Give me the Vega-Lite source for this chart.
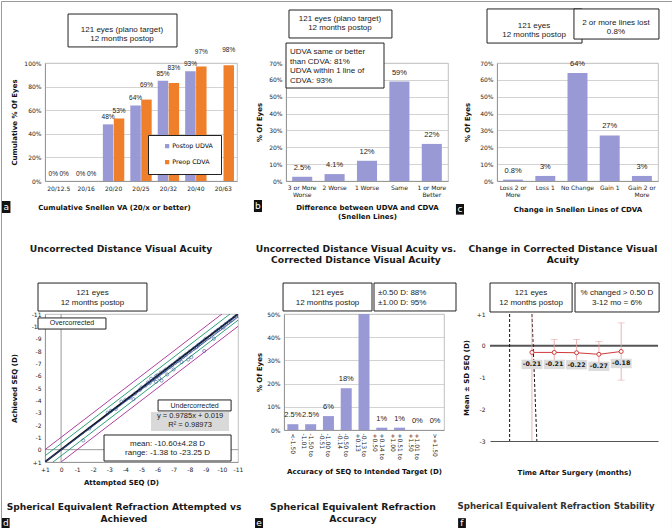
{
"$schema":"https://vega.github.io/schema/vega-lite/v6.json",
"background":"white",
"padding":0,
"spacing":251,
"bounds":"flush",
"config":{
 "font":"DejaVu Sans",
 "view":{"stroke":"#b0b0b0","strokeWidth":0.8},
 "axis":{"labelFont":"DejaVu Sans","labelFontSize":6,"labelColor":"#1a1a1a","titleFont":"DejaVu Sans","titleFontWeight":"bold","titleFontSize":7,"titleColor":"#111","domainColor":"#8a8a8a","domainWidth":0.8,"gridColor":"#c8c8c8","gridWidth":0.8,"ticks":false,"labelPadding":4,"labelOverlap":false},
 "axisQuantitative":{"labelOverlap":false,"labelFlush":false},
 "text":{"font":"Liberation Sans","color":"#1a1a1a"}
},
"datasets":{
 "cumva":[
  {"va":"20/12.5","series":"Postop UDVA","pct":0},
  {"va":"20/12.5","series":"Preop CDVA","pct":0},
  {"va":"20/16","series":"Postop UDVA","pct":0},
  {"va":"20/16","series":"Preop CDVA","pct":0},
  {"va":"20/20","series":"Postop UDVA","pct":0.48},
  {"va":"20/20","series":"Preop CDVA","pct":0.53},
  {"va":"20/25","series":"Postop UDVA","pct":0.64},
  {"va":"20/25","series":"Preop CDVA","pct":0.69},
  {"va":"20/32","series":"Postop UDVA","pct":0.85},
  {"va":"20/32","series":"Preop CDVA","pct":0.83},
  {"va":"20/40","series":"Postop UDVA","pct":0.93},
  {"va":"20/40","series":"Preop CDVA","pct":0.97},
  {"va":"20/63","series":"Preop CDVA","pct":0.98}
 ],
 "diff":[
  {"cat":"3 or More|Worse","pct":0.025},
  {"cat":"2 Worse","pct":0.041},
  {"cat":"1 Worse","pct":0.12},
  {"cat":"Same","pct":0.59},
  {"cat":"1 or More|Better","pct":0.22}
 ],
 "cdva":[
  {"cat":"Loss 2 or|More","pct":0.008},
  {"cat":"Loss 1","pct":0.03},
  {"cat":"No Change","pct":0.64},
  {"cat":"Gain 1","pct":0.27},
  {"cat":"Gain 2 or|More","pct":0.03}
 ],
 "acc":[
  {"cat":"<-1.50","pct":0.025},
  {"cat":"-1.50 to|-1.01","pct":0.025},
  {"cat":"-1.00 to|-0.51","pct":0.06},
  {"cat":"-0.50 to|-0.14","pct":0.18},
  {"cat":"-0.13 to|+0.13","pct":0.69},
  {"cat":"+0.14 to|+0.50","pct":0.01},
  {"cat":"+0.51 to|+1.00","pct":0.01},
  {"cat":"+1.01 to|+1.50","pct":0},
  {"cat":">+1.50","pct":0}
 ],
 "seq":[
  {"att":-1.38,"ach":-0.75},{"att":-1.75,"ach":-1.7},{"att":-2.9,"ach":-3.0},{"att":-3.1,"ach":-3.15},
  {"att":-3.4,"ach":-3.3},{"att":-3.75,"ach":-3.9},{"att":-4.0,"ach":-4.05},{"att":-4.25,"ach":-4.2},
  {"att":-4.5,"ach":-4.1},{"att":-4.6,"ach":-4.55},{"att":-4.9,"ach":-4.85},{"att":-5.0,"ach":-5.05},
  {"att":-5.25,"ach":-5.2},{"att":-5.4,"ach":-5.45},{"att":-5.5,"ach":-5.4},{"att":-5.6,"ach":-5.75},
  {"att":-5.75,"ach":-5.7},{"att":-5.9,"ach":-5.5},{"att":-5.9,"ach":-5.95},{"att":-6.0,"ach":-6.05},
  {"att":-6.1,"ach":-5.8},{"att":-6.2,"ach":-6.25},{"att":-6.25,"ach":-5.6},{"att":-6.4,"ach":-6.35},
  {"att":-6.5,"ach":-6.5},{"att":-6.6,"ach":-6.1},{"att":-6.75,"ach":-6.7},{"att":-6.9,"ach":-6.85},
  {"att":-7.0,"ach":-6.5},{"att":-7.1,"ach":-7.05},{"att":-7.25,"ach":-7.2},{"att":-7.4,"ach":-7.4},
  {"att":-7.5,"ach":-7.1},{"att":-7.6,"ach":-7.55},{"att":-7.75,"ach":-7.7},{"att":-7.9,"ach":-7.3},
  {"att":-8.0,"ach":-7.95},{"att":-8.1,"ach":-7.5},{"att":-8.25,"ach":-8.2},{"att":-8.4,"ach":-8.3},
  {"att":-8.5,"ach":-8.45},{"att":-8.6,"ach":-8.55},{"att":-8.75,"ach":-8.7},{"att":-8.9,"ach":-8.0},
  {"att":-8.9,"ach":-8.85},{"att":-9.0,"ach":-9.0},{"att":-9.2,"ach":-9.1},{"att":-9.4,"ach":-9.35},
  {"att":-9.5,"ach":-9.0},{"att":-9.6,"ach":-9.55},{"att":-9.75,"ach":-9.7},{"att":-9.9,"ach":-9.8},
  {"att":-10.0,"ach":-9.95},{"att":-10.1,"ach":-9.9},{"att":-10.25,"ach":-10.2},{"att":-10.4,"ach":-10.3},
  {"att":-10.5,"ach":-10.45},{"att":-10.6,"ach":-10.5},{"att":-10.75,"ach":-10.7},{"att":-10.9,"ach":-10.85},
  {"att":-11.0,"ach":-10.9}
 ],
 "reflines":[
  {"line":"-1.0","att":2,"ach":1},{"line":"-1.0","att":-12,"ach":-13},
  {"line":"-0.5","att":2,"ach":1.5},{"line":"-0.5","att":-12,"ach":-12.5},
  {"line":"0","att":2,"ach":2},{"line":"0","att":-12,"ach":-12},
  {"line":"+0.5","att":2,"ach":2.5},{"line":"+0.5","att":-12,"ach":-11.5},
  {"line":"+1.0","att":2,"ach":3},{"line":"+1.0","att":-12,"ach":-11}
 ],
 "fit":[{"att":2,"ach":1.976},{"att":-12,"ach":-11.723}],
 "stab":[
  {"visit":1,"mean":-0.21,"lo":-3.6,"hi":1.3,"label":"-0.21"},
  {"visit":2,"mean":-0.21,"lo":-0.62,"hi":0.2,"label":"-0.21"},
  {"visit":3,"mean":-0.22,"lo":-0.64,"hi":0.2,"label":"-0.22"},
  {"visit":4,"mean":-0.27,"lo":-0.67,"hi":0.13,"label":"-0.27"},
  {"visit":5,"mean":-0.18,"lo":-1.08,"hi":0.72,"label":"-0.18"}
 ]
},
"vconcat":[
 {"hconcat":[
  {"width":192,"height":118,
   "resolve":{"scale":{"x":"independent","y":"independent"}},
   "layer":[
    {"data":{"name":"cumva"},
     "encoding":{
      "x":{"field":"va","type":"nominal","sort":["20/12.5","20/16","20/20","20/25","20/32","20/40","20/63"],"scale":{"paddingInner":0.22,"paddingOuter":0.11},"axis":{"title":"Cumulative Snellen VA (20/x or better)","labelAngle":0,"titlePadding":12,"titleX":69}},
      "xOffset":{"field":"series","type":"nominal","sort":["Postop UDVA","Preop CDVA"],"scale":{"paddingInner":0.04}},
      "y":{"field":"pct","type":"quantitative","scale":{"domain":[0,1],"nice":false},"axis":{"title":"Cumulative % Of Eyes","format":".0%","values":[0,0.2,0.4,0.6,0.8,1],"tickCount":10,"titlePadding":6}}
     },
     "layer":[
      {"mark":{"type":"bar"},
       "encoding":{"color":{"field":"series","type":"nominal","scale":{"domain":["Postop UDVA","Preop CDVA"],"range":["#9999d6","#f07f2c"]},
        "legend":{"title":null,"orient":"none","legendX":103,"legendY":72,"strokeColor":"#222","fillColor":"white","padding":8,"labelFontSize":6.3,"labelFont":"DejaVu Sans","symbolType":"square","symbolSize":18,"symbolOffset":8,"rowPadding":9,"symbolStrokeWidth":0,"labelOffset":2}}}},
      {"transform":[{"filter":"datum.series == 'Postop UDVA' || datum.pct < 0.6"}],
       "mark":{"type":"text","fontSize":6.5,"baseline":"bottom","dy":-4},
       "encoding":{"text":{"field":"pct","type":"quantitative","format":".0%"}}},
      {"transform":[{"filter":"datum.series == 'Preop CDVA' && datum.pct >= 0.6"}],
       "mark":{"type":"text","fontSize":6.5,"baseline":"bottom","dy":-12},
       "encoding":{"text":{"field":"pct","type":"quantitative","format":".0%"}}}
     ]},
    {"data":{"values":[{}]},
     "layer":[
      {"mark":{"type":"rect","fill":null,"stroke":"#9a9a9a","strokeWidth":1},
       "encoding":{"x":{"datum":-22.66,"type":"quantitative","scale":{"domain":[0,100],"nice":false,"zero":false},"axis":null},"x2":{"datum":326.8},
        "y":{"datum":-52.1,"type":"quantitative","scale":{"domain":[100,0],"nice":false,"zero":false},"axis":null},"y2":{"datum":394.5}}},
      {"mark":{"type":"rect","fill":"white","stroke":"#222","strokeWidth":1},
       "encoding":{"x":{"datum":12,"type":"quantitative","scale":{"domain":[0,100],"nice":false,"zero":false},"axis":null},"x2":{"datum":68.75},
        "y":{"datum":-41.5,"type":"quantitative","scale":{"domain":[100,0],"nice":false,"zero":false},"axis":null},"y2":{"datum":-13.6}}},
      {"mark":{"type":"text","fontSize":8,"lineHeight":9.5,"baseline":"middle","align":"center"},
       "encoding":{"x":{"datum":40.1,"type":"quantitative","scale":{"domain":[0,100],"nice":false,"zero":false},"axis":null},
        "y":{"datum":-28.0,"type":"quantitative","scale":{"domain":[100,0],"nice":false,"zero":false},"axis":null},
        "text":{"value":["121 eyes (plano target)","12 months postop"]}}},
      {"mark":{"type":"text","font":"DejaVu Sans","fontWeight":"bold","fontSize":9.2,"baseline":"middle","align":"center"},
       "encoding":{"x":{"datum":39.6,"type":"quantitative","scale":{"domain":[0,100],"nice":false,"zero":false},"axis":null},
        "y":{"datum":157.6,"type":"quantitative","scale":{"domain":[100,0],"nice":false,"zero":false},"axis":null},
        "text":{"value":"Uncorrected Distance Visual Acuity"}}},
      {"mark":{"type":"rect","fill":"#111"},
       "encoding":{"x":{"datum":-22.4,"type":"quantitative","scale":{"domain":[0,100],"nice":false,"zero":false},"axis":null},"x2":{"datum":-18.0},
        "y":{"datum":116.9,"type":"quantitative","scale":{"domain":[100,0],"nice":false,"zero":false},"axis":null},"y2":{"datum":127.1}}},
      {"mark":{"type":"text","font":"DejaVu Sans","fontSize":9,"color":"white","baseline":"middle","align":"center"},
       "encoding":{"x":{"datum":-20.2,"type":"quantitative","scale":{"domain":[0,100],"nice":false,"zero":false},"axis":null},
        "y":{"datum":122,"type":"quantitative","scale":{"domain":[100,0],"nice":false,"zero":false},"axis":null},
        "text":{"value":"a"}}}
     ]}
   ]},
  {"width":162,"height":118,
   "resolve":{"scale":{"x":"independent","y":"independent"}},
   "layer":[
    {"data":{"name":"diff"},
     "encoding":{
      "x":{"field":"cat","type":"nominal","sort":["3 or More|Worse","2 Worse","1 Worse","Same","1 or More|Better"],"scale":{"paddingInner":0.38,"paddingOuter":0.19},"axis":{"title":["Difference between  UDVA and CDVA","(Snellen Lines)"],"titleLineHeight":9,"labelAngle":0,"labelExpr":"split(datum.label, '|')","labelLineHeight":7,"labelPadding":3,"titlePadding":6}},
      "y":{"field":"pct","type":"quantitative","scale":{"domain":[0,0.7],"nice":false},"axis":{"title":"% Of Eyes","format":".0%","values":[0,0.1,0.2,0.3,0.4,0.5,0.6,0.7],"tickCount":10,"titlePadding":6}}
     },
     "layer":[
      {"mark":{"type":"bar","color":"#9999d6"}},
      {"mark":{"type":"text","fontSize":7.5,"baseline":"bottom","dy":-5},
       "encoding":{"text":{"field":"pct","type":"quantitative","format":".2~%"}}}
     ]},
    {"data":{"values":[{}]},
     "layer":[
      {"mark":{"type":"rect","fill":"white","stroke":"#222","strokeWidth":1},
       "encoding":{"x":{"datum":1.85,"type":"quantitative","scale":{"domain":[0,100],"nice":false,"zero":false},"axis":null},"x2":{"datum":65.4},
        "y":{"datum":-44.9,"type":"quantitative","scale":{"domain":[100,0],"nice":false,"zero":false},"axis":null},"y2":{"datum":-21.2}}},
      {"mark":{"type":"text","fontSize":8,"lineHeight":9.5,"baseline":"middle","align":"center"},
       "encoding":{"x":{"datum":33.3,"type":"quantitative","scale":{"domain":[0,100],"nice":false,"zero":false},"axis":null},
        "y":{"datum":-37.3,"type":"quantitative","scale":{"domain":[100,0],"nice":false,"zero":false},"axis":null},
        "text":{"value":["121 eyes (plano target)","12  months postop"]}}},
      {"mark":{"type":"rect","fill":"white","stroke":"#222","strokeWidth":1},
       "encoding":{"x":{"datum":0,"type":"quantitative","scale":{"domain":[0,100],"nice":false,"zero":false},"axis":null},"x2":{"datum":60.5},
        "y":{"datum":-16.9,"type":"quantitative","scale":{"domain":[100,0],"nice":false,"zero":false},"axis":null},"y2":{"datum":21.2}}},
      {"mark":{"type":"text","fontSize":8,"lineHeight":9.4,"baseline":"middle","align":"left"},
       "encoding":{"x":{"datum":2.5,"type":"quantitative","scale":{"domain":[0,100],"nice":false,"zero":false},"axis":null},
        "y":{"datum":-8.9,"type":"quantitative","scale":{"domain":[100,0],"nice":false,"zero":false},"axis":null},
        "text":{"value":["UDVA same or better","than CDVA: 81%","UDVA within 1 line of","CDVA: 93%"]}}},
      {"mark":{"type":"text","font":"DejaVu Sans","fontWeight":"bold","fontSize":9.2,"lineHeight":11.5,"baseline":"middle","align":"center"},
       "encoding":{"x":{"datum":43.2,"type":"quantitative","scale":{"domain":[0,100],"nice":false,"zero":false},"axis":null},
        "y":{"datum":157.6,"type":"quantitative","scale":{"domain":[100,0],"nice":false,"zero":false},"axis":null},
        "text":{"value":["Uncorrected Distance Visual Acuity vs.","Corrected Distance Visual Acuity"]}}},
      {"mark":{"type":"rect","fill":"#111"},
       "encoding":{"x":{"datum":-19.8,"type":"quantitative","scale":{"domain":[0,100],"nice":false,"zero":false},"axis":null},"x2":{"datum":-14.8},
        "y":{"datum":116.1,"type":"quantitative","scale":{"domain":[100,0],"nice":false,"zero":false},"axis":null},"y2":{"datum":126.3}}},
      {"mark":{"type":"text","font":"DejaVu Sans","fontSize":9,"color":"white","baseline":"middle","align":"center"},
       "encoding":{"x":{"datum":-17.3,"type":"quantitative","scale":{"domain":[0,100],"nice":false,"zero":false},"axis":null},
        "y":{"datum":121.2,"type":"quantitative","scale":{"domain":[100,0],"nice":false,"zero":false},"axis":null},
        "text":{"value":"b"}}}
     ]}
   ]},
  {"width":161,"height":118,
   "resolve":{"scale":{"x":"independent","y":"independent"}},
   "layer":[
    {"data":{"name":"cdva"},
     "encoding":{
      "x":{"field":"cat","type":"nominal","sort":["Loss 2 or|More","Loss 1","No Change","Gain 1","Gain 2 or|More"],"scale":{"paddingInner":0.38,"paddingOuter":0.19},"axis":{"title":"Change in Snellen Lines of CDVA","labelAngle":0,"labelExpr":"split(datum.label, '|')","labelLineHeight":7,"labelPadding":3,"titlePadding":8}},
      "y":{"field":"pct","type":"quantitative","scale":{"domain":[0,0.7],"nice":false},"axis":{"title":"% Of Eyes","format":".0%","values":[0,0.1,0.2,0.3,0.4,0.5,0.6,0.7],"tickCount":10,"titlePadding":9}}
     },
     "layer":[
      {"mark":{"type":"bar","color":"#9999d6"}},
      {"mark":{"type":"text","fontSize":7.5,"baseline":"bottom","dy":-5},
       "encoding":{"text":{"field":"pct","type":"quantitative","format":".2~%"}}}
     ]},
    {"data":{"values":[{}]},
     "layer":[
      {"mark":{"type":"rect","fill":"white","stroke":"#222","strokeWidth":1},
       "encoding":{"x":{"datum":-6.2,"type":"quantitative","scale":{"domain":[0,100],"nice":false,"zero":false},"axis":null},"x2":{"datum":52.8},
        "y":{"datum":-45.8,"type":"quantitative","scale":{"domain":[100,0],"nice":false,"zero":false},"axis":null},"y2":{"datum":-16.9}}},
      {"mark":{"type":"text","fontSize":8,"lineHeight":9.5,"baseline":"middle","align":"center"},
       "encoding":{"x":{"datum":23.0,"type":"quantitative","scale":{"domain":[0,100],"nice":false,"zero":false},"axis":null},
        "y":{"datum":-31.4,"type":"quantitative","scale":{"domain":[100,0],"nice":false,"zero":false},"axis":null},
        "text":{"value":["121 eyes","12 months postop"]}}},
      {"mark":{"type":"rect","fill":"white","stroke":"#222","strokeWidth":1},
       "encoding":{"x":{"datum":47.8,"type":"quantitative","scale":{"domain":[0,100],"nice":false,"zero":false},"axis":null},"x2":{"datum":100.6},
        "y":{"datum":-45.8,"type":"quantitative","scale":{"domain":[100,0],"nice":false,"zero":false},"axis":null},"y2":{"datum":-20.3}}},
      {"mark":{"type":"text","fontSize":8,"lineHeight":9.5,"baseline":"middle","align":"center"},
       "encoding":{"x":{"datum":73.9,"type":"quantitative","scale":{"domain":[0,100],"nice":false,"zero":false},"axis":null},
        "y":{"datum":-33.9,"type":"quantitative","scale":{"domain":[100,0],"nice":false,"zero":false},"axis":null},
        "text":{"value":["2 or more lines lost","0.8%"]}}},
      {"mark":{"type":"text","font":"DejaVu Sans","fontWeight":"bold","fontSize":9.2,"lineHeight":11.5,"baseline":"middle","align":"center"},
       "encoding":{"x":{"datum":41.0,"type":"quantitative","scale":{"domain":[0,100],"nice":false,"zero":false},"axis":null},
        "y":{"datum":157.6,"type":"quantitative","scale":{"domain":[100,0],"nice":false,"zero":false},"axis":null},
        "text":{"value":["Change in Corrected Distance Visual","Acuity"]}}},
      {"mark":{"type":"rect","fill":"#111"},
       "encoding":{"x":{"datum":-25.5,"type":"quantitative","scale":{"domain":[0,100],"nice":false,"zero":false},"axis":null},"x2":{"datum":-20.5},
        "y":{"datum":119.5,"type":"quantitative","scale":{"domain":[100,0],"nice":false,"zero":false},"axis":null},"y2":{"datum":128.5}}},
      {"mark":{"type":"text","font":"DejaVu Sans","fontSize":9,"color":"white","baseline":"middle","align":"center"},
       "encoding":{"x":{"datum":-23.0,"type":"quantitative","scale":{"domain":[0,100],"nice":false,"zero":false},"axis":null},
        "y":{"datum":124.0,"type":"quantitative","scale":{"domain":[100,0],"nice":false,"zero":false},"axis":null},
        "text":{"value":"c"}}}
     ]}
   ]}
 ],"spacing":49,"bounds":"flush"},
 {"hconcat":[
  {"width":193,"height":148,
   "layer":[
    {"data":{"values":[{}]},"mark":{"type":"rule","color":"#9a9a9a","strokeWidth":1},
     "encoding":{"x":{"datum":0,"type":"quantitative","scale":{"domain":[1,-11],"nice":false,"zero":false},"title":"Attempted SEQ (D)","axis":{"values":[1,0,-1,-2,-3,-4,-5,-6,-7,-8,-9,-10,-11],"tickCount":20,"labelExpr":"datum.value > 0 ? '+' + datum.value : '' + datum.value","labelOverlap":false,"labelFlush":false,"gridColor":"#dcdcdc","titlePadding":6,"titleX":76}},
      "y":{"datum":1,"type":"quantitative","scale":{"domain":[1,-11],"nice":false,"zero":false},"title":"Achieved SEQ (D)","axis":{"values":[1,0,-1,-2,-3,-4,-5,-6,-7,-8,-9,-10,-11],"tickCount":20,"labelExpr":"datum.value > 0 ? '+' + datum.value : '' + datum.value","labelOverlap":false,"labelFlush":false,"gridColor":"#dcdcdc","titlePadding":14}},
      "y2":{"datum":-11}}},
    {"data":{"values":[{}]},"mark":{"type":"rule","color":"#9a9a9a","strokeWidth":1},
     "encoding":{"x":{"datum":1,"type":"quantitative","title":"Attempted SEQ (D)"},"x2":{"datum":-11},
      "y":{"datum":0,"type":"quantitative","title":"Achieved SEQ (D)"}}},
    {"data":{"name":"reflines"},"transform":[{"filter":"datum.line == '-1.0' || datum.line == '+1.0'"}],
     "mark":{"type":"line","color":"#b0409f","strokeWidth":1,"clip":true},
     "encoding":{"x":{"field":"att","type":"quantitative","title":"Attempted SEQ (D)"},"y":{"field":"ach","type":"quantitative","title":"Achieved SEQ (D)"},"detail":{"field":"line"}}},
    {"data":{"name":"reflines"},"transform":[{"filter":"datum.line == '-0.5' || datum.line == '+0.5'"}],
     "mark":{"type":"line","color":"#2fa07a","strokeWidth":1,"clip":true},
     "encoding":{"x":{"field":"att","type":"quantitative","title":"Attempted SEQ (D)"},"y":{"field":"ach","type":"quantitative","title":"Achieved SEQ (D)"},"detail":{"field":"line"}}},
    {"data":{"name":"reflines"},"transform":[{"filter":"datum.line == '0'"}],
     "mark":{"type":"line","color":"#111","strokeWidth":1.8,"clip":true},
     "encoding":{"x":{"field":"att","type":"quantitative","title":"Attempted SEQ (D)"},"y":{"field":"ach","type":"quantitative","title":"Achieved SEQ (D)"}}},
    {"data":{"name":"fit"},
     "mark":{"type":"line","color":"#3050b0","strokeWidth":0.8,"clip":true},
     "encoding":{"x":{"field":"att","type":"quantitative","title":"Attempted SEQ (D)"},"y":{"field":"ach","type":"quantitative","title":"Achieved SEQ (D)"}}},
    {"data":{"name":"seq"},
     "mark":{"type":"point","shape":"circle","size":10,"stroke":"#2f4f8f","strokeWidth":0.8,"filled":false,"clip":true},
     "encoding":{"x":{"field":"att","type":"quantitative","title":"Attempted SEQ (D)"},"y":{"field":"ach","type":"quantitative","title":"Achieved SEQ (D)"}}},
    {"data":{"values":[{}]},
     "layer":[
      {"mark":{"type":"rect","fill":"white","stroke":"#222","strokeWidth":1},
       "encoding":{"x":{"datum":1.435,"type":"quantitative","title":"Attempted SEQ (D)"},"x2":{"datum":-5.34},"y":{"datum":-13.51,"type":"quantitative","title":"Achieved SEQ (D)"},"y2":{"datum":-11.24}}},
      {"mark":{"type":"text","fontSize":8,"lineHeight":9.5,"baseline":"middle","align":"center"},
       "encoding":{"x":{"datum":-1.95,"type":"quantitative","title":"Attempted SEQ (D)"},"y":{"datum":-12.7,"type":"quantitative","title":"Achieved SEQ (D)"},"text":{"value":["121 eyes","12 months postop"]}}},
      {"mark":{"type":"rect","fill":"white","stroke":"#222","strokeWidth":1},
       "encoding":{"x":{"datum":1.435,"type":"quantitative","title":"Attempted SEQ (D)"},"x2":{"datum":-2.79},"y":{"datum":-10.68,"type":"quantitative","title":"Achieved SEQ (D)"},"y2":{"datum":-9.78}}},
      {"mark":{"type":"text","fontSize":7,"baseline":"middle","align":"center"},
       "encoding":{"x":{"datum":-0.68,"type":"quantitative","title":"Attempted SEQ (D)"},"y":{"datum":-10.23,"type":"quantitative","title":"Achieved SEQ (D)"},"text":{"value":"Overcorrected"}}},
      {"mark":{"type":"rect","fill":"white","stroke":"#222","strokeWidth":1},
       "encoding":{"x":{"datum":-6.03,"type":"quantitative","title":"Attempted SEQ (D)"},"x2":{"datum":-10.57},"y":{"datum":-4.03,"type":"quantitative","title":"Achieved SEQ (D)"},"y2":{"datum":-3.14}}},
      {"mark":{"type":"text","fontSize":7,"baseline":"middle","align":"center"},
       "encoding":{"x":{"datum":-8.3,"type":"quantitative","title":"Attempted SEQ (D)"},"y":{"datum":-3.58,"type":"quantitative","title":"Achieved SEQ (D)"},"text":{"value":"Undercorrected"}}},
      {"mark":{"type":"rect","fill":"#d9d9d9"},
       "encoding":{"x":{"datum":-5.59,"type":"quantitative","title":"Attempted SEQ (D)"},"x2":{"datum":-10.44},"y":{"datum":-3.05,"type":"quantitative","title":"Achieved SEQ (D)"},"y2":{"datum":-1.51}}},
      {"mark":{"type":"text","fontSize":7.5,"lineHeight":9,"baseline":"middle","align":"center"},
       "encoding":{"x":{"datum":-8.02,"type":"quantitative","title":"Attempted SEQ (D)"},"y":{"datum":-2.73,"type":"quantitative","title":"Achieved SEQ (D)"},"text":{"value":["y = 0.9785x + 0.019","R² = 0.98973"]}}},
      {"mark":{"type":"rect","fill":"white","stroke":"#222","strokeWidth":1},
       "encoding":{"x":{"datum":-2.67,"type":"quantitative","title":"Attempted SEQ (D)"},"x2":{"datum":-10.57},"y":{"datum":-1.19,"type":"quantitative","title":"Achieved SEQ (D)"},"y2":{"datum":0.92}}},
      {"mark":{"type":"text","fontSize":8,"lineHeight":9.5,"baseline":"middle","align":"center"},
       "encoding":{"x":{"datum":-6.62,"type":"quantitative","title":"Attempted SEQ (D)"},"y":{"datum":-0.46,"type":"quantitative","title":"Achieved SEQ (D)"},"text":{"value":["mean: -10.60±4.28 D","range: -1.38 to -23.25 D"]}}},
      {"mark":{"type":"text","font":"DejaVu Sans","fontWeight":"bold","fontSize":9.1,"lineHeight":11.5,"baseline":"middle","align":"center"},
       "encoding":{"x":{"datum":-3.91,"type":"quantitative","title":"Attempted SEQ (D)"},"y":{"datum":4.65,"type":"quantitative","title":"Achieved SEQ (D)"},"text":{"value":["Spherical Equivalent Refraction Attempted vs","Achieved"]}}},
      {"mark":{"type":"rect","fill":"#111"},
       "encoding":{"x":{"datum":3.68,"type":"quantitative","title":"Attempted SEQ (D)"},"x2":{"datum":3.2},"y":{"datum":5.54,"type":"quantitative","title":"Achieved SEQ (D)"},"y2":{"datum":6.35}}},
      {"mark":{"type":"text","font":"DejaVu Sans","fontSize":9,"color":"white","baseline":"middle","align":"center"},
       "encoding":{"x":{"datum":3.44,"type":"quantitative","title":"Attempted SEQ (D)"},"y":{"datum":5.95,"type":"quantitative","title":"Achieved SEQ (D)"},"text":{"value":"d"}}}
     ]}
   ]},
  {"width":160,"height":116,
   "resolve":{"scale":{"x":"independent","y":"independent"}},
   "layer":[
    {"data":{"name":"acc"},
     "encoding":{
      "x":{"field":"cat","type":"nominal","sort":["<-1.50","-1.50 to|-1.01","-1.00 to|-0.51","-0.50 to|-0.14","-0.13 to|+0.13","+0.14 to|+0.50","+0.51 to|+1.00","+1.01 to|+1.50",">+1.50"],"scale":{"paddingInner":0.38,"paddingOuter":0.19},"axis":{"title":"Accuracy of SEQ to Intended Target (D)","labelAngle":90,"labelAlign":"left","labelBaseline":"middle","labelExpr":"split(datum.label, '|')","labelLineHeight":6.5,"labelPadding":3,"titlePadding":8}},
      "y":{"field":"pct","type":"quantitative","scale":{"domain":[0,0.5],"nice":false},"axis":{"title":"% Of Eyes","format":".0%","values":[0,0.1,0.2,0.3,0.4,0.5],"tickCount":10,"titlePadding":4}}
     },
     "layer":[
      {"mark":{"type":"bar","color":"#9999d6","clip":true}},
      {"transform":[{"filter":"datum.pct < 0.5"}],
       "mark":{"type":"text","fontSize":7.5,"baseline":"bottom","dy":-5},
       "encoding":{"text":{"field":"pct","type":"quantitative","format":".2~%"}}}
     ]},
    {"data":{"values":[{}]},
     "layer":[
      {"mark":{"type":"rect","fill":"white","stroke":"#222","strokeWidth":1},
       "encoding":{"x":{"datum":-0.6,"type":"quantitative","scale":{"domain":[0,100],"nice":false,"zero":false},"axis":null},"x2":{"datum":55},
        "y":{"datum":-26.7,"type":"quantitative","scale":{"domain":[100,0],"nice":false,"zero":false},"axis":null},"y2":{"datum":-2.6}}},
      {"mark":{"type":"text","fontSize":8,"lineHeight":9.5,"baseline":"middle","align":"center"},
       "encoding":{"x":{"datum":27.2,"type":"quantitative","scale":{"domain":[0,100],"nice":false,"zero":false},"axis":null},
        "y":{"datum":-18.1,"type":"quantitative","scale":{"domain":[100,0],"nice":false,"zero":false},"axis":null},
        "text":{"value":["121 eyes","12 months postop"]}}},
      {"mark":{"type":"rect","fill":"white","stroke":"#222","strokeWidth":1},
       "encoding":{"x":{"datum":56.25,"type":"quantitative","scale":{"domain":[0,100],"nice":false,"zero":false},"axis":null},"x2":{"datum":107.5},
        "y":{"datum":-26.7,"type":"quantitative","scale":{"domain":[100,0],"nice":false,"zero":false},"axis":null},"y2":{"datum":-2.6}}},
      {"mark":{"type":"text","fontSize":8,"lineHeight":9.5,"baseline":"middle","align":"left"},
       "encoding":{"x":{"datum":58.75,"type":"quantitative","scale":{"domain":[0,100],"nice":false,"zero":false},"axis":null},
        "y":{"datum":-18.1,"type":"quantitative","scale":{"domain":[100,0],"nice":false,"zero":false},"axis":null},
        "text":{"value":["±0.50 D: 88%","±1.00 D: 95%"]}}},
      {"mark":{"type":"text","font":"DejaVu Sans","fontWeight":"bold","fontSize":9.3,"lineHeight":11.5,"baseline":"middle","align":"center"},
       "encoding":{"x":{"datum":43.1,"type":"quantitative","scale":{"domain":[0,100],"nice":false,"zero":false},"axis":null},
        "y":{"datum":166.4,"type":"quantitative","scale":{"domain":[100,0],"nice":false,"zero":false},"axis":null},
        "text":{"value":["Spherical Equivalent Refraction","Accuracy"]}}},
      {"mark":{"type":"rect","fill":"#111"},
       "encoding":{"x":{"datum":-18.1,"type":"quantitative","scale":{"domain":[0,100],"nice":false,"zero":false},"axis":null},"x2":{"datum":-13.1},
        "y":{"datum":175.9,"type":"quantitative","scale":{"domain":[100,0],"nice":false,"zero":false},"axis":null},"y2":{"datum":184.5}}},
      {"mark":{"type":"text","font":"DejaVu Sans","fontSize":9,"color":"white","baseline":"middle","align":"center"},
       "encoding":{"x":{"datum":-15.6,"type":"quantitative","scale":{"domain":[0,100],"nice":false,"zero":false},"axis":null},
        "y":{"datum":180.2,"type":"quantitative","scale":{"domain":[100,0],"nice":false,"zero":false},"axis":null},
        "text":{"value":"e"}}}
     ]}
   ]},
  {"width":168,"height":127,
   "view":{"stroke":null},
   "layer":[
    {"data":{"values":[{}]},"mark":{"type":"rule","color":"#555","strokeWidth":2},
     "encoding":{"x":{"datum":-0.88,"type":"quantitative","scale":{"domain":[-0.88,6.65],"nice":false,"zero":false},"title":"Time After Surgery (months)","axis":{"labels":false,"grid":false,"domain":true,"domainColor":"#555","domainWidth":1.2,"titlePadding":27}},
      "x2":{"datum":6.65},
      "y":{"datum":0,"type":"quantitative","scale":{"domain":[-3,1],"nice":false,"zero":false},"title":"Mean ± SD SEQ (D)","axis":{"values":[-3,-2,-1,0,1],"tickCount":10,"labelExpr":"datum.value > 0 ? '+' + datum.value : '' + datum.value","labelOverlap":false,"labelFlush":false,"domain":false,"gridColor":"#d4d4d4","labelPadding":5,"titlePadding":7}}}},
    {"data":{"values":[{}]},"mark":{"type":"rule","color":"#111","strokeWidth":1,"strokeDash":[3,2]},
     "encoding":{"x":{"datum":0,"type":"quantitative","title":"Time After Surgery (months)"},"y":{"datum":1,"type":"quantitative","title":"Mean ± SD SEQ (D)"},"y2":{"datum":-3}}},
    {"data":{"values":[{}]},"mark":{"type":"rule","color":"#111","strokeWidth":1,"strokeDash":[3,2]},
     "encoding":{"x":{"datum":1.0,"type":"quantitative","title":"Time After Surgery (months)"},"x2":{"datum":1.22},"y":{"datum":1,"type":"quantitative","title":"Mean ± SD SEQ (D)"},"y2":{"datum":-3}}},
    {"data":{"name":"stab"},
     "layer":[
      {"mark":{"type":"rule","color":"#e8a0a0","strokeWidth":0.8,"clip":true},
       "encoding":{"x":{"field":"visit","type":"quantitative","title":"Time After Surgery (months)"},"y":{"field":"lo","type":"quantitative","title":"Mean ± SD SEQ (D)"},"y2":{"field":"hi"}}},
      {"mark":{"type":"tick","orient":"horizontal","color":"#e8a0a0","size":7,"thickness":0.8,"clip":true},
       "encoding":{"x":{"field":"visit","type":"quantitative","title":"Time After Surgery (months)"},"y":{"field":"hi","type":"quantitative","title":"Mean ± SD SEQ (D)"}}},
      {"mark":{"type":"tick","orient":"horizontal","color":"#e8a0a0","size":7,"thickness":0.8,"clip":true},
       "encoding":{"x":{"field":"visit","type":"quantitative","title":"Time After Surgery (months)"},"y":{"field":"lo","type":"quantitative","title":"Mean ± SD SEQ (D)"}}},
      {"mark":{"type":"line","color":"#d03a3a","strokeWidth":1},
       "encoding":{"x":{"field":"visit","type":"quantitative","title":"Time After Surgery (months)"},"y":{"field":"mean","type":"quantitative","title":"Mean ± SD SEQ (D)"}}},
      {"mark":{"type":"point","shape":"circle","size":16,"filled":true,"fill":"white","stroke":"#d03a3a","strokeWidth":1,"opacity":1},
       "encoding":{"x":{"field":"visit","type":"quantitative","title":"Time After Surgery (months)"},"y":{"field":"mean","type":"quantitative","title":"Mean ± SD SEQ (D)"}}},
      {"mark":{"type":"point","shape":"M-1,-0.45L1,-0.45L1,0.45L-1,0.45Z","size":441,"filled":true,"color":"#dcdcdc","opacity":1,"yOffset":12},
       "encoding":{"x":{"field":"visit","type":"quantitative","title":"Time After Surgery (months)"},"y":{"field":"mean","type":"quantitative","title":"Mean ± SD SEQ (D)"}}},
      {"mark":{"type":"text","font":"DejaVu Sans","fontWeight":"bold","fontSize":6.3,"baseline":"middle","align":"center","dy":12},
       "encoding":{"x":{"field":"visit","type":"quantitative","title":"Time After Surgery (months)"},"y":{"field":"mean","type":"quantitative","title":"Mean ± SD SEQ (D)"},"text":{"field":"label"}}}
     ]},
    {"data":{"values":[{}]},
     "layer":[
      {"mark":{"type":"rect","fill":"white","stroke":"#222","strokeWidth":1},
       "encoding":{"x":{"datum":-0.88,"type":"quantitative","title":"Time After Surgery (months)"},"x2":{"datum":2.8},"y":{"datum":1.976,"type":"quantitative","title":"Mean ± SD SEQ (D)"},"y2":{"datum":1.063}}},
      {"mark":{"type":"text","fontSize":8,"lineHeight":9.5,"baseline":"middle","align":"center"},
       "encoding":{"x":{"datum":0.96,"type":"quantitative","title":"Time After Surgery (months)"},"y":{"datum":1.661,"type":"quantitative","title":"Mean ± SD SEQ (D)"},"text":{"value":["121 eyes","12 months postop"]}}},
      {"mark":{"type":"rect","fill":"white","stroke":"#222","strokeWidth":1},
       "encoding":{"x":{"datum":2.93,"type":"quantitative","title":"Time After Surgery (months)"},"x2":{"datum":6.7},"y":{"datum":1.976,"type":"quantitative","title":"Mean ± SD SEQ (D)"},"y2":{"datum":1.063}}},
      {"mark":{"type":"text","fontSize":8,"lineHeight":9.5,"baseline":"middle","align":"center"},
       "encoding":{"x":{"datum":4.81,"type":"quantitative","title":"Time After Surgery (months)"},"y":{"datum":1.661,"type":"quantitative","title":"Mean ± SD SEQ (D)"},"text":{"value":["% changed > 0.50 D","3-12 mo = 6%"]}}},
      {"mark":{"type":"text","font":"DejaVu Sans","fontWeight":"bold","fontSize":8.6,"baseline":"middle","align":"center","color":"#333"},
       "encoding":{"x":{"datum":2.08,"type":"quantitative","title":"Time After Surgery (months)"},"y":{"datum":-5.05,"type":"quantitative","title":"Mean ± SD SEQ (D)"},"text":{"value":"Spherical Equivalent Refraction Stability"}}},
      {"mark":{"type":"rect","fill":"#111"},
       "encoding":{"x":{"datum":-2.31,"type":"quantitative","title":"Time After Surgery (months)"},"x2":{"datum":-1.96},"y":{"datum":-5.43,"type":"quantitative","title":"Mean ± SD SEQ (D)"},"y2":{"datum":-5.75}}},
      {"mark":{"type":"text","font":"DejaVu Sans","fontSize":9,"color":"white","baseline":"middle","align":"center"},
       "encoding":{"x":{"datum":-2.14,"type":"quantitative","title":"Time After Surgery (months)"},"y":{"datum":-5.59,"type":"quantitative","title":"Mean ± SD SEQ (D)"},"text":{"value":"f"}}}
     ]}
   ]}
 ],"spacing":46,"bounds":"flush"}
]
}
